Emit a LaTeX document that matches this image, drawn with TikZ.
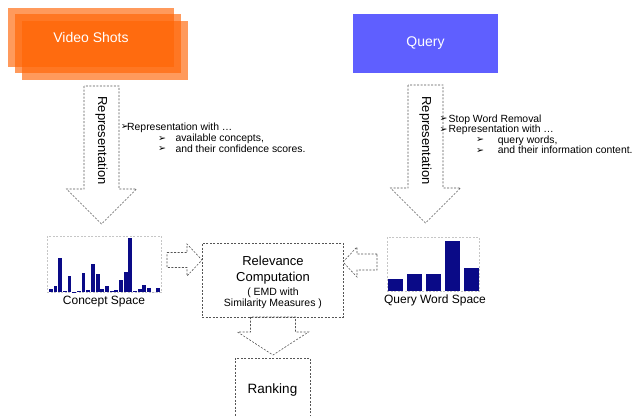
\documentclass[tikz,border=0pt]{standalone}
\usepackage{fontspec}
\setmainfont{Liberation Sans}
\newfontfamily\symfont{DejaVu Sans}
\usetikzlibrary{positioning}

\definecolor{shotorange}{RGB}{255,100,4}
\definecolor{queryblue}{RGB}{95,95,255}
\definecolor{barblue}{RGB}{10,10,135}
\definecolor{dashgray}{RGB}{85,85,85}
\newcommand{\bul}{\raisebox{0.2pt}{\fontsize{9.5}{9.5}\symfont ➢}}

\begin{document}
\begin{tikzpicture}[x=1pt, y=-1pt]
	\tikzstyle{dashbox} = [ draw=dashgray, line width=0.6pt, dash pattern=on 2pt off 1.5pt ];
	\tikzstyle{shot} = [ fill=shotorange, fill opacity=0.65, text opacity=1, text=white, minimum width=166pt, minimum height=59pt, inner sep=0pt, font={\fontsize{14}{14}\selectfont} ];
	\tikzstyle{query} = [ fill=queryblue, text=white, minimum width=145pt, minimum height=59pt, inner sep=0pt, font={\fontsize{14}{14}\selectfont} ];
	\tikzstyle{arrowtext} = [ rotate=-90, inner sep=0pt, font={\fontsize{13}{13}\selectfont} ];
	\tikzstyle{panel} = [ draw=gray!45, line width=0.5pt, dash pattern=on 2pt off 1.5pt, inner sep=0pt ];
	\tikzstyle{caption} = [ inner sep=0pt, font={\fontsize{12}{12}\selectfont} ];
	\tikzstyle{info} = [ anchor=base west, inner sep=0pt, font={\fontsize{10.4}{12}\selectfont} ];
	\tikzstyle{bar} = [ fill=barblue ];

	% #1 tail, #2 half shaft, #3 head extend, #4 shaft length, #5 head length
	\def \downblock#1#2#3#4#5{
		\draw[dashbox] (#1) ++(-#2,0) -- ++(0,#4) -- ++(-#3,0) -- ++({#2+#3},#5) -- ++({#2+#3},-#5) -- ++(-#3,0) -- ++(0,-#4) -- cycle;
	}
	% #6 = 1 points right, -1 points left
	\def \sideblock#1#2#3#4#5#6{
		\draw[dashbox] (#1) ++(0,-#2) -- ++({#6*#4},0) -- ++(0,-#3) -- ++({#6*#5},{#2+#3}) -- ++({-#6*#5},{#2+#3}) -- ++(0,-#3) -- ++({-#6*#4},0) -- cycle;
	}

	\path[use as bounding box, clip] (0,0) rectangle (634,415);

	\foreach \s/\x/\y in {3/105/50.5, 2/98/43.5} {
		\node[shot] (shot\s) at (\x,\y) {};
	}
	\node[shot] (shot1) at (91,37) {Video Shots};
	\node[query] (query) at (425.5,43.5) {Query};

	\coordinate (repLtop) at (101.5,86);
	\coordinate (repRtop) at (425.5,85);
	\downblock{repLtop}{17.5}{17.5}{103}{35}
	\downblock{repRtop}{17.5}{17.5}{103}{35}
	\node[arrowtext] (repL) at (101.5,140.5) {Representation};
	\node[arrowtext] (repR) at (425.5,140.5) {Representation};

	\node[info] (l1) at (120.7,130) {\makebox[6.3pt][l]{\bul}Representation with …};
	\node[info] (l2) at (158,141.5) {\makebox[17.3pt][l]{\bul}available concepts,};
	\node[info] (l3) at (158,152) {\makebox[17.3pt][l]{\bul}and their confidence scores.};

	\node[info] (r1) at (439.3,122) {\makebox[9.2pt][l]{\bul}Stop Word Removal};
	\node[info] (r2) at (439.3,132.5) {\makebox[9.2pt][l]{\bul}Representation with …};
	\node[info] (r3) at (476,143) {\makebox[21.7pt][l]{\bul}query words,};
	\node[info] (r4) at (476,153.5) {\makebox[21.7pt][l]{\bul}and their information content.};

	\node[panel, minimum width=114pt, minimum height=56pt] (cs) at (104,264) {};
	\def \conceptbars {3,6,33.7,1.3,16.3,0.3,1.3,19.3,2.3,27.7,18.3,3,5.7,0.7,2.3,11.7,20.3,54.3,1.3,3,7.3,3.7,0,4.3}
	\foreach \h [count=\i] in \conceptbars {
		\fill[bar] ({49+(\i-1)*4.67},292) rectangle ++(3.8,-\h);
	}
	\node[caption] (csl) at (104,302) {Concept Space};

	\node[panel, minimum width=92pt, minimum height=54pt] (qs) at (433,264) {};
	\def \querybars {12,17,17,50,23}
	\foreach \h [count=\i] in \querybars {
		\fill[bar] ({388+(\i-1)*19},291) rectangle ++(15,-\h);
	}
	\node[caption] (qsl) at (435,300) {Query Word Space};

	\node[dashbox, minimum width=141pt, minimum height=74pt] (rel) at (272.5,280) {};
	\node[inner sep=0pt, align=center, font={\fontsize{13}{16}\selectfont}] (relA) at (273,269.7) {Relevance\\Computation};
	\node[inner sep=0pt, align=center, font={\fontsize{10.5}{11.7}\selectfont}] (relB) at (273,298.2) {( EMD with\\Similarity Measures )};

	\coordinate (inLtail) at (167,260);
	\coordinate (inRtail) at (377,262);
	\sideblock{inLtail}{7.5}{8.5}{20}{15}{1}
	\sideblock{inRtail}{8}{7}{20}{14}{-1}

	\coordinate (rankIn) at (273,317);
	\downblock{rankIn}{22.5}{13}{15}{23}
	\node[dashbox, minimum width=75pt, minimum height=64pt, font={\fontsize{13.5}{13.5}\selectfont}] (rank) at (272.5,390) {Ranking};
\end{tikzpicture}
\end{document}
